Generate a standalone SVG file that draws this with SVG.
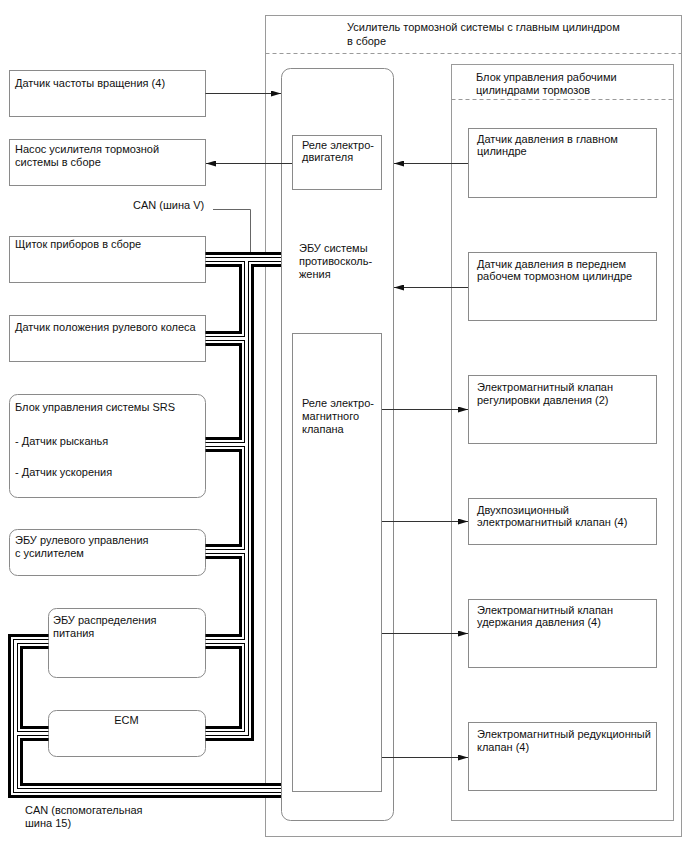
<svg xmlns="http://www.w3.org/2000/svg" xmlns:xlink="http://www.w3.org/1999/xlink" width="688" height="852" viewBox="0 0 688 852">
<style>
  text { font-family: "Liberation Sans", Arial, sans-serif; font-size: 11px; fill: #111; }
  .box { fill: #fff; stroke: #8a8a8a; stroke-width: 1; }
  .frame { fill: none; stroke: #9a9a9a; stroke-width: 1; }
  .dash { fill: none; stroke: #9a9a9a; stroke-width: 1; stroke-dasharray: 4 3; }
  .arrow { fill: none; stroke: #333; stroke-width: 1; marker-end: url(#ah); }
  .lead { fill: none; stroke: #666; stroke-width: 1; }
  .bus { fill: none; stroke-linecap: butt; stroke-linejoin: miter; }
  .l1 { stroke: #000; stroke-width: 15; }
  .l2 { stroke: #fff; stroke-width: 9; }
  .l3 { stroke: #000; stroke-width: 5; }
  .l4 { stroke: #fff; stroke-width: 3; }
</style>
<defs>
  <marker id="ah" viewBox="0 0 10 6" refX="10" refY="3" markerWidth="10" markerHeight="6" markerUnits="userSpaceOnUse" orient="auto">
    <path d="M0,0 L10,3 L0,6 z" fill="#111"/>
  </marker>
  <path id="can-v" d="M205.5,259.5 H281 M246.5,259.5 V733.5 H205.5 M205.5,338.5 H246.5 M205.5,444.5 H246.5 M205.5,551.5 H246.5 M205.5,641.5 H246.5"/>
  <path id="can-15" d="M48.5,641.5 H15.5 V790.5 H281 M15.5,733.5 H48.5"/>
</defs>

<rect width="688" height="852" fill="#fff"/>

<g id="brake-booster-assembly">
  <rect class="frame" x="265.5" y="15.5" width="416" height="821"/>
  <line class="dash" x1="265.5" y1="53.5" x2="681.5" y2="53.5"/>
  <text x="347" y="31">Усилитель тормозной системы с главным цилиндром</text>
  <text x="347" y="45">в сборе</text>
</g>

<g id="actuator-block">
  <rect class="frame" x="451.5" y="64.5" width="222" height="756"/>
  <line class="dash" x1="451.5" y1="99.5" x2="673.5" y2="99.5"/>
  <text x="476" y="81">Блок управления рабочими</text>
  <text x="476" y="93.5">цилиндрами тормозов</text>
</g>

<g id="abs-ecu">
  <rect class="box" x="281.5" y="68.5" width="112" height="752" rx="9"/>
  <text x="299" y="252">ЭБУ системы</text>
  <text x="299" y="265">противосколь-</text>
  <text x="299" y="278">жения</text>
</g>

<g id="motor-relay">
  <rect class="box" x="292.5" y="135.5" width="89" height="54"/>
  <text x="302" y="149">Реле электро-</text>
  <text x="302" y="161">двигателя</text>
</g>

<g id="solenoid-relay">
  <rect class="box" x="292.5" y="333.5" width="89" height="458"/>
  <text x="302" y="407">Реле электро-</text>
  <text x="302" y="420">магнитного</text>
  <text x="302" y="433">клапана</text>
</g>

<g id="master-cyl-sensor">
  <rect class="box" x="468.5" y="128.5" width="188" height="69"/>
  <text x="477" y="142.5">Датчик давления в главном</text>
  <text x="477" y="155">цилиндре</text>
</g>

<g id="front-cyl-sensor">
  <rect class="box" x="468.5" y="252.5" width="188" height="68"/>
  <text x="477" y="267.5">Датчик давления в переднем</text>
  <text x="477" y="279.5">рабочем тормозном цилиндре</text>
</g>

<g id="pressure-reg-valve">
  <rect class="box" x="468.5" y="375.5" width="188" height="68"/>
  <text x="477" y="391">Электромагнитный клапан</text>
  <text x="477" y="403.5">регулировки давления (2)</text>
</g>

<g id="two-position-valve">
  <rect class="box" x="468.5" y="498.5" width="188" height="46"/>
  <text x="477" y="513.5">Двухпозиционный</text>
  <text x="477" y="526">электромагнитный клапан (4)</text>
</g>

<g id="holding-valve">
  <rect class="box" x="468.5" y="599.5" width="188" height="68"/>
  <text x="477" y="613.5">Электромагнитный клапан</text>
  <text x="477" y="626">удержания давления (4)</text>
</g>

<g id="reduction-valve">
  <rect class="box" x="468.5" y="722.5" width="188" height="68"/>
  <text x="477" y="738">Электромагнитный редукционный</text>
  <text x="477" y="750.5">клапан (4)</text>
</g>

<g id="speed-sensor">
  <rect class="box" x="9.5" y="70.5" width="196" height="46"/>
  <text x="15" y="86.5">Датчик частоты вращения (4)</text>
</g>

<g id="booster-pump">
  <rect class="box" x="9.5" y="139.5" width="196" height="46"/>
  <text x="15" y="153">Насос усилителя тормозной</text>
  <text x="15" y="166">системы в сборе</text>
</g>

<g id="combination-meter">
  <rect class="box" x="9.5" y="236.5" width="196" height="46"/>
  <text x="15" y="247.5">Щиток приборов в сборе</text>
</g>

<g id="steering-angle-sensor">
  <rect class="box" x="9.5" y="315.5" width="196" height="46"/>
  <text x="15" y="330.5">Датчик положения рулевого колеса</text>
</g>

<g id="srs-unit">
  <rect class="box" x="9.5" y="394.5" width="196" height="103" rx="8"/>
  <text x="15" y="410.5">Блок управления системы SRS</text>
  <text x="15" y="444.5">- Датчик рысканья</text>
  <text x="15" y="475.5">- Датчик ускорения</text>
</g>

<g id="eps-ecu">
  <rect class="box" x="9.5" y="529.5" width="196" height="46" rx="8"/>
  <text x="15" y="543.5">ЭБУ рулевого управления</text>
  <text x="15" y="557">с усилителем</text>
</g>

<g id="power-ecu">
  <rect class="box" x="48.5" y="608.5" width="157" height="69" rx="8"/>
  <text x="53" y="624">ЭБУ распределения</text>
  <text x="53" y="637">питания</text>
</g>

<g id="ecm">
  <rect class="box" x="48.5" y="710.5" width="157" height="46" rx="8"/>
  <text x="126.5" y="724" text-anchor="middle">ECM</text>
</g>

<g id="connectors">
  <path class="arrow" d="M205.5,93.5 H281"/>
  <path class="arrow" d="M292,163.5 H206"/>
  <path class="arrow" d="M468,163.5 H394"/>
  <path class="arrow" d="M468,287.5 H394"/>
  <path class="arrow" d="M382,409.5 H468"/>
  <path class="arrow" d="M382,521.5 H468"/>
  <path class="arrow" d="M382,633.5 H468"/>
  <path class="arrow" d="M382,757.5 H468"/>
  <g class="bus">
    <use xlink:href="#can-v" class="l1"/>
    <use xlink:href="#can-15" class="l1"/>
    <use xlink:href="#can-v" class="l2"/>
    <use xlink:href="#can-15" class="l2"/>
    <use xlink:href="#can-v" class="l3"/>
    <use xlink:href="#can-15" class="l3"/>
    <use xlink:href="#can-v" class="l4"/>
    <use xlink:href="#can-15" class="l4"/>
  </g>
  <path class="lead" d="M213,209.5 H250.5 V252"/>
</g>

<g id="bus-labels">
  <text x="133" y="209">CAN (шина V)</text>
  <text x="25" y="814">CAN (вспомогательная</text>
  <text x="25" y="827">шина 15)</text>
</g>
</svg>
